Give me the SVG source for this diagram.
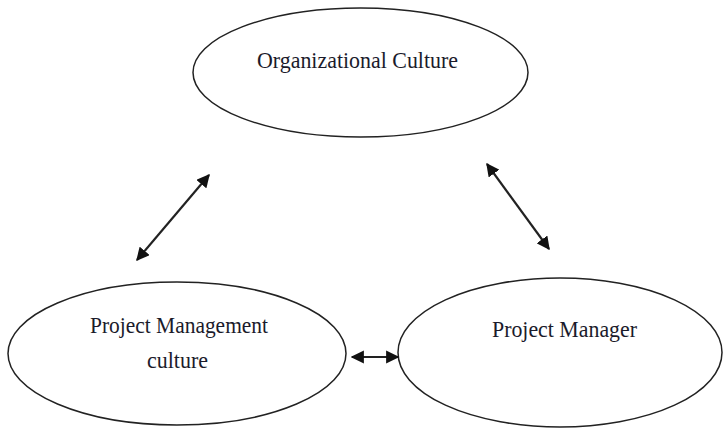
<svg xmlns="http://www.w3.org/2000/svg" width="724" height="430" viewBox="0 0 724 430">
<style>
.node ellipse{fill:#fff;stroke:#222;stroke-width:1.5}
.node text{font-family:"Liberation Serif",serif;font-size:23px;fill:#1b1b2b;text-anchor:middle}
.conn line{stroke:#222;stroke-width:2.2}
</style>
<defs>
<marker id="ah" viewBox="0 0 10 10" refX="9" refY="5" markerWidth="6" markerHeight="6" orient="auto-start-reverse" markerUnits="strokeWidth">
<path d="M0,0 L10,5 L0,10 z" fill="#111"/>
</marker>
</defs>
<rect width="724" height="430" fill="#fff"/>
<g id="org-culture" class="node">
<ellipse cx="360.5" cy="72.5" rx="167.5" ry="64.5"/>
<text x="357.5" y="68" textLength="201" lengthAdjust="spacingAndGlyphs">Organizational Culture</text>
</g>
<g id="pm-culture" class="node">
<ellipse cx="177" cy="353.5" rx="169" ry="71.5"/>
<text x="179" y="333" textLength="178" lengthAdjust="spacingAndGlyphs">Project Management</text>
<text x="177.5" y="368" textLength="61" lengthAdjust="spacingAndGlyphs">culture</text>
</g>
<g id="project-manager" class="node">
<ellipse cx="560" cy="352.5" rx="162" ry="74.5"/>
<text x="564.5" y="337" textLength="145" lengthAdjust="spacingAndGlyphs">Project Manager</text>
</g>
<g id="connectors" class="conn">
<line x1="137" y1="260" x2="209" y2="175" marker-start="url(#ah)" marker-end="url(#ah)"/>
<line x1="487" y1="164" x2="549" y2="249" marker-start="url(#ah)" marker-end="url(#ah)"/>
<line x1="352" y1="357" x2="398" y2="357" marker-start="url(#ah)" marker-end="url(#ah)"/>
</g>
</svg>
